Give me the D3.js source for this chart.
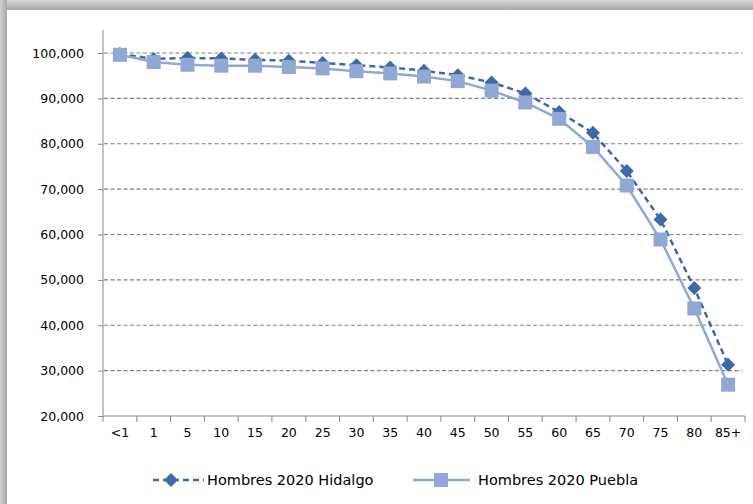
<!DOCTYPE html>
<html><head><meta charset="utf-8">
<script src="https://cdn.jsdelivr.net/npm/d3@7"></script>
<style>body{margin:0;background:#fff;}svg{display:block;}</style>
</head><body><svg id="c" width="753" height="504"></svg>
<script>
const categories = ["<1","1","5","10","15","20","25","30","35","40","45","50","55","60","65","70","75","80","85+"];
const hidalgo = [99800,98700,98900,98800,98500,98300,97800,97300,96800,96100,95100,93500,91100,87000,82400,74000,63300,48200,31300];
const puebla  = [99600,98000,97400,97200,97200,96900,96600,96000,95500,94800,93800,91700,89100,85500,79300,70800,58900,43700,26900];
const yTicks = [20000,30000,40000,50000,60000,70000,80000,90000,100000];
const seriesNames = ["Hombres 2020 Hidalgo","Hombres 2020 Puebla"];

const svg = d3.select("#c");
const defs = svg.append("defs");
const gTop = defs.append("linearGradient").attr("id","gt").attr("x1",0).attr("y1",0).attr("x2",0).attr("y2",1);
gTop.append("stop").attr("offset","0%").attr("stop-color","#d8d8d8");
gTop.append("stop").attr("offset","100%").attr("stop-color","#a8a8a8");
const gLeft = defs.append("linearGradient").attr("id","gl").attr("x1",0).attr("y1",0).attr("x2",1).attr("y2",0);
gLeft.append("stop").attr("offset","0%").attr("stop-color","#d0d0d0");
gLeft.append("stop").attr("offset","100%").attr("stop-color","#a8a8a8");
svg.append("rect").attr("x",0).attr("y",0).attr("width",753).attr("height",10).attr("fill","url(#gt)");
svg.append("rect").attr("x",0).attr("y",0).attr("width",7).attr("height",504).attr("fill","url(#gl)");

const x = d3.scaleBand().domain(categories).range([103,745]);
const y = d3.scaleLinear().domain([20000,100000]).range([416,53]);

svg.append("g").selectAll("line").data(yTicks.filter(d=>d>20000)).join("line")
  .attr("x1",104).attr("x2",742).attr("y1",d=>y(d)).attr("y2",d=>y(d))
  .attr("stroke","#808080").attr("stroke-width",1.2).attr("stroke-dasharray","4,2.5");

const font = "Tahoma, 'DejaVu Sans', sans-serif";
const ya = svg.append("g").attr("transform","translate(103,0)")
  .call(d3.axisLeft(y).tickValues(yTicks).tickSize(5).tickSizeOuter(0).tickPadding(14).tickFormat(d3.format(",")));
ya.select(".domain").attr("stroke","#888").attr("d","M0,30V416");
ya.selectAll(".tick line").attr("stroke","#888");
ya.selectAll("text").attr("font-family",font).attr("font-size",12.5).attr("fill","#000");

const xa = svg.append("g").attr("transform","translate(0,416)")
  .call(d3.axisBottom(x).tickSize(0).tickPadding(12));
xa.select(".domain").attr("stroke","#888").attr("d","M103,0H745");
xa.selectAll("text").attr("font-family",font).attr("font-size",12.5).attr("fill","#000");
svg.append("g").selectAll("line").data(categories.concat(["end"])).join("line")
  .attr("x1",(d,i)=>i<categories.length?x(d):x.range()[1]).attr("x2",(d,i)=>i<categories.length?x(d):x.range()[1])
  .attr("y1",416).attr("y2",422).attr("stroke","#888");

const cx = d => x(d)+x.bandwidth()/2;
const line = d3.line().x((d,i)=>cx(categories[i])).y(d=>y(d));

const cH = "#3d69a6", cP = "#90a9d4";
const diamondPath = "M0,-7L7,0L0,7L-7,0Z";
svg.append("path").datum(hidalgo).attr("d",line).attr("fill","none").attr("stroke",cH).attr("stroke-width",2.5).attr("stroke-dasharray","6,4");
svg.append("g").selectAll("path").data(hidalgo).join("path")
  .attr("d",diamondPath).attr("transform",(d,i)=>`translate(${cx(categories[i])},${y(d)})`).attr("fill",cH);
svg.append("path").datum(puebla).attr("d",line).attr("fill","none").attr("stroke",cP).attr("stroke-width",2.5);
svg.append("g").selectAll("rect").data(puebla).join("rect")
  .attr("x",(d,i)=>cx(categories[i])-7).attr("y",d=>y(d)-7).attr("width",14).attr("height",14).attr("fill",cP);

const lg = svg.append("g");
lg.append("line").attr("x1",153).attr("x2",204).attr("y1",480).attr("y2",480).attr("stroke",cH).attr("stroke-width",2.5).attr("stroke-dasharray","6,4");
lg.append("path").attr("d",diamondPath).attr("transform","translate(171,480)").attr("fill",cH);
lg.append("text").attr("x",207).attr("y",485).text(seriesNames[0]).attr("font-family",font).attr("font-size",14.5);
lg.append("line").attr("x1",413).attr("x2",470).attr("y1",480).attr("y2",480).attr("stroke",cP).attr("stroke-width",2.5);
lg.append("rect").attr("x",434).attr("y",473).attr("width",14).attr("height",14).attr("fill",cP);
lg.append("text").attr("x",478).attr("y",485).text(seriesNames[1]).attr("font-family",font).attr("font-size",14.5);
</script></body></html>
